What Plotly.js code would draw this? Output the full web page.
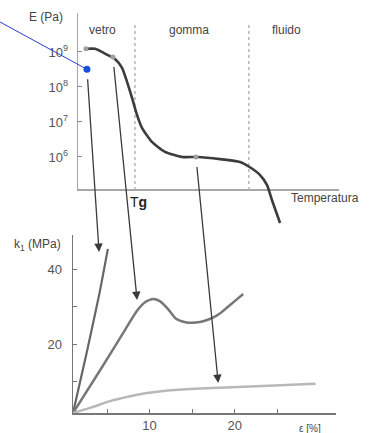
<!DOCTYPE html>
<html><head><meta charset="utf-8">
<script src="https://cdn.plot.ly/plotly-3.0.1.min.js"></script>
<style>html,body{margin:0;padding:0;background:#fff}#c{width:376px;height:433px}</style>
</head><body><div id="c"></div>
<script>
// ---- data: modulus vs temperature (top) ----
const tempT = [3.4, 6.9, 11.8, 14.5, 17.2, 19.1, 21.0, 22.9, 24.8, 28.6, 33.6, 40.1, 45.8, 54.6, 62.2, 66.0, 69.8, 72.5, 74.4, 77.5];
const modE  = [1.23e9, 1.23e9, 8.1e8, 6.3e8, 3.5e8, 1.4e8, 4.9e7, 1.6e7, 6.8e6, 2.7e6, 1.4e6, 1.0e6, 1.0e6, 8.7e5, 7.2e5, 5.1e5, 3.1e5, 1.6e5, 5.9e4, 1.3e4];
const regionBounds = [22.1, 65.6];
const regionNames = ['vetro', 'gomma', 'fluido'];
const regionCenters = [9.9, 42.7, 80];
const yTickVals = [1e6, 1e7, 1e8, 1e9];
const yTickText = ['10<sup>6</sup>', '10<sup>7</sup>', '10<sup>8</sup>', '10<sup>9</sup>'];
const markT = [3.4, 13.7, 45.4];
const markE = [1.23e9, 7.2e8, 1.0e6];
// ---- data: stress vs strain (bottom) ----
const epsA = [1.0, 2.6, 4.1, 5.1];
const kA   = [1.75, 17.7, 33.5, 45.4];
const epsB = [1.0, 4.2, 7.1, 8.5, 9.5, 10.4, 11.2, 12.2, 13.1, 14.2, 15.4, 16.5, 17.5, 18.3, 19.1, 20.1, 21.0];
const kB   = [1.75, 13.2, 23.8, 28.9, 31.3, 32.1, 31.5, 29.3, 26.8, 25.9, 25.8, 26.3, 27.2, 28.3, 29.8, 31.7, 33.4];
const epsC = [1.0, 3.0, 5.35, 7.7, 9.5, 12.4, 15.9, 21.8, 29.5];
const kC   = [1.75, 3.1, 4.9, 6.2, 7.0, 7.8, 8.3, 8.8, 9.5];
const xTickVals = [10, 20];
const xMinorVals = [5, 15, 25];
const kTickVals = [20, 40];
const kMinorVals = [10, 30];
// ---- arrows linking top points to bottom curves ----
const arrowFromT = [3.8, 13.7, 45.4];
const arrowFromE = [3.2e8, 7.2e8, 1.0e6];
const arrowToEps = [4.06, 8.53, 18.06];
const arrowToK   = [44.6, 31.8, 9.74];

const W = 376, H = 433;
const topX = {dom: [77, 339], rng: [0, 100]};
const topY = {dom: [13, 225], rng: [4.057, 10.114]};
const botX = {dom: [73, 336], rng: [1.0, 31.9]};
const botY = {dom: [235, 413], rng: [1.75, 49.1]};
function pxX(a, v) { return a.dom[0] + (v - a.rng[0]) / (a.rng[1] - a.rng[0]) * (a.dom[1] - a.dom[0]); }
function pxY(a, v) { return a.dom[1] - (v - a.rng[0]) / (a.rng[1] - a.rng[0]) * (a.dom[1] - a.dom[0]); }
const fx = p => p / W, fy = p => 1 - p / H;

const axisBaseE = Math.pow(10, 5.06), axisTopE = Math.pow(10, 10.114);
const dotTopE = Math.pow(10, 9.86);

const traces = [];
traces.push({x: [0, 100], y: [axisBaseE, axisBaseE], xaxis: 'x', yaxis: 'y', mode: 'lines', line: {color: '#8a8a8a', width: 1.5}, hoverinfo: 'skip'});
traces.push({x: [0, 0], y: [axisBaseE, axisTopE], xaxis: 'x', yaxis: 'y', mode: 'lines', line: {color: '#8a8a8a', width: 1.5}, hoverinfo: 'skip'});
regionBounds.forEach(t => traces.push({x: [t, t], y: [axisBaseE, dotTopE], xaxis: 'x', yaxis: 'y', mode: 'lines', line: {color: '#b5b5b5', width: 1.5, dash: 'dot'}, hoverinfo: 'skip'}));
traces.push({x: tempT, y: modE, xaxis: 'x', yaxis: 'y', mode: 'lines', line: {color: '#3c3c3c', width: 2.6, shape: 'spline', smoothing: 0.6}});
traces.push({x: markT, y: markE, xaxis: 'x', yaxis: 'y', mode: 'markers', marker: {color: '#a0a0a0', size: 5}});
traces.push({x: epsA, y: kA, xaxis: 'x2', yaxis: 'y2', mode: 'lines', line: {color: '#666', width: 2.2, shape: 'spline', smoothing: 0.5}});
traces.push({x: epsB, y: kB, xaxis: 'x2', yaxis: 'y2', mode: 'lines', line: {color: '#777', width: 2.5, shape: 'spline', smoothing: 0.6}});
traces.push({x: epsC, y: kC, xaxis: 'x2', yaxis: 'y2', mode: 'lines', line: {color: '#b8b8b8', width: 2.5, shape: 'spline', smoothing: 0.6}});
traces.push({x: [arrowFromT[0]], y: [arrowFromE[0]], xaxis: 'x', yaxis: 'y', mode: 'markers', marker: {color: '#1a4fe0', size: 7}});

const annotations = [];
const shapes = [];
for (let i = 0; i < arrowFromT.length; i++) {
  const tx = pxX(topX, arrowFromT[i]), ty = pxY(topY, Math.log10(arrowFromE[i]));
  const hx = pxX(botX, arrowToEps[i]), hy = pxY(botY, arrowToK[i]);
  annotations.push({xref: 'paper', yref: 'paper', x: fx(hx), y: fy(hy), ax: tx - hx, ay: ty - hy,
    axref: 'pixel', ayref: 'pixel', text: ' ', showarrow: true, arrowhead: 2, arrowsize: 1.3, arrowwidth: 1.3, arrowcolor: '#3a3a3a', standoff: 0});
}
{
  const bx = pxX(topX, arrowFromT[0]), by = pxY(topY, Math.log10(arrowFromE[0]));
  shapes.push({type: 'line', xref: 'paper', yref: 'paper', x0: 0, y0: fy(22), x1: fx(bx), y1: fy(by), line: {color: '#2a3fcf', width: 1}});
}
const txtFont = {family: 'Liberation Sans, Arial, sans-serif', size: 12, color: '#444'};
regionNames.forEach((n, i) => annotations.push({xref: 'paper', yref: 'paper', x: fx(pxX(topX, regionCenters[i])), y: fy(30), text: n, showarrow: false, font: txtFont, xanchor: 'center', yanchor: 'middle'}));
annotations.push({xref: 'paper', yref: 'paper', x: fx(46), y: fy(17), text: 'E (Pa)', showarrow: false, font: txtFont, xanchor: 'center', yanchor: 'middle'});
annotations.push({xref: 'paper', yref: 'paper', x: fx(pxX(topX, 23.5)), y: fy(202), text: 'T<b>g</b>', showarrow: false, font: {family: 'Liberation Sans, Arial, sans-serif', size: 14, color: '#222'}, xanchor: 'center', yanchor: 'middle'});
annotations.push({xref: 'paper', yref: 'paper', x: fx(289), y: fy(198), text: 'Temperatura', showarrow: false, font: txtFont, xanchor: 'left', yanchor: 'middle'});
annotations.push({xref: 'paper', yref: 'paper', x: fx(37), y: fy(245), text: 'k<sub>1</sub> (MPa)', showarrow: false, font: txtFont, xanchor: 'center', yanchor: 'middle'});
annotations.push({xref: 'paper', yref: 'paper', x: fx(310), y: fy(428), text: 'ε [%]', showarrow: false, font: {family: 'Liberation Sans, Arial, sans-serif', size: 10, color: '#444'}, xanchor: 'center', yanchor: 'middle'});

const tickFont = {family: 'Liberation Sans, Arial, sans-serif', size: 13, color: '#555'};
const layout = {
  width: W, height: H, margin: {l: 0, r: 0, t: 0, b: 0}, showlegend: false,
  paper_bgcolor: '#fff', plot_bgcolor: 'rgba(0,0,0,0)',
  xaxis: {domain: [fx(topX.dom[0]), fx(topX.dom[1])], range: topX.rng, visible: false, fixedrange: true},
  yaxis: {domain: [fy(topY.dom[1]), fy(topY.dom[0])], type: 'log', range: topY.rng, showline: false, showgrid: false, zeroline: false,
    ticks: 'inside', ticklen: 5, tickcolor: '#8a8a8a', tickvals: yTickVals, ticktext: yTickText, tickfont: tickFont, ticklabelstandoff: 8},
  xaxis2: {domain: [fx(botX.dom[0]), fx(botX.dom[1])], range: botX.rng, anchor: 'y2', showline: true, linecolor: '#777', linewidth: 1.5,
    showgrid: false, zeroline: false, ticks: 'inside', ticklen: 4, tickcolor: '#777', tickvals: xTickVals, tickfont: tickFont,
    minor: {tickvals: xMinorVals, ticks: 'inside', ticklen: 4, tickcolor: '#777', showgrid: false}},
  yaxis2: {domain: [fy(botY.dom[1]), fy(botY.dom[0])], range: botY.rng, anchor: 'x2', showline: true, linecolor: '#777', linewidth: 1.5,
    showgrid: false, zeroline: false, ticks: 'inside', ticklen: 4, tickcolor: '#777', tickvals: kTickVals, tickfont: tickFont, ticklabelstandoff: 7,
    minor: {tickvals: kMinorVals, ticks: 'inside', ticklen: 4, tickcolor: '#777', showgrid: false}},
  annotations: annotations, shapes: shapes
};
Plotly.newPlot('c', traces, layout, {staticPlot: true});
</script></body></html>
